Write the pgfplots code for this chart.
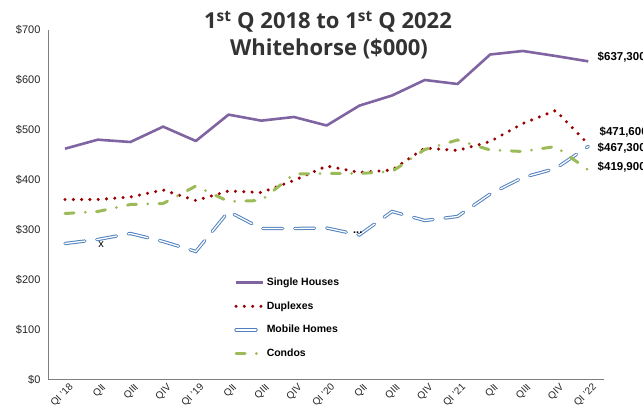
\documentclass[border=0pt]{standalone}
\usepackage{fontspec}
\setmainfont{Liberation Sans}
\newfontfamily\titlefont{Open Sans}
\usepackage{pgfplots}
\pgfplotsset{compat=1.18}
\definecolor{sh}{HTML}{8064A2}
\definecolor{dp}{HTML}{990000}
\definecolor{mh}{HTML}{4F81BD}
\definecolor{cd}{HTML}{9BBB59}
\definecolor{axgray}{HTML}{7F7F7F}
\definecolor{ttl}{HTML}{333333}
\begin{document}
\begin{tikzpicture}[x=1pt,y=1pt]
\begin{axis}[
  at={(49pt,34pt)}, anchor=south west,
  scale only axis, width=555pt, height=350pt,
  xmin=-0.49, xmax=16.48, ymin=0, ymax=700,
  axis x line=bottom, axis y line=left,
  axis line style={-, draw=axgray, line width=1pt},
  major tick length=0pt,
  clip=false,
  ytick={0,100,...,700},
  yticklabels={\$0,\$100,\$200,\$300,\$400,\$500,\$600,\$700},
  yticklabel style={font=\fontsize{11}{13}\selectfont, text=black!85, xshift=-5pt},
  xtick={0,...,16},
  xticklabels={{QI '18},QII,QIII,QIV,{QI '19},QII,QIII,QIV,{QI '20},QII,QIII,QIV,{QI '21},QII,QIII,QIV,{QI '22}},
  xticklabel style={font=\fontsize{10}{11}\selectfont, text=black!85, rotate=45, anchor=north east, inner sep=0.5pt, yshift=-4pt, xshift=1pt},
  legend style={at={(0.33,0.303)}, anchor=north west, draw=none, fill=none,
    font=\bfseries\fontsize{10.5}{12}\selectfont, row sep=10.5pt, inner sep=2pt},
  legend cell align=left,
  legend image code/.code={\draw[#1] (0pt,0pt) -- (27pt,0pt);},
]
\addplot[sh, line width=2.6pt, line join=round] coordinates {
(0,462.6) (1,480.6) (2,476) (3,506.7) (4,478) (5,530.7) (6,518.7) (7,526) (8,509)
(9,548.7) (10,569) (11,600) (12,592) (13,651) (14,658) (15,648) (16,637.3)};
\addlegendentry{Single Houses}
\addplot[dp, line width=3.4pt, line cap=round, dash pattern=on 0pt off 8.3pt] coordinates {
(0,361) (1,361) (2,366) (3,380) (4,359) (5,378) (6,375) (7,399) (8,428)
(9,415) (10,420) (11,464) (12,459) (13,477) (14,513) (15,539) (16,471.6)};
\addlegendentry{Duplexes}
\addplot[mh, line width=1pt, double=white, double distance=1.3pt, line cap=round, dash pattern=on 20pt off 12pt] coordinates {
(0,273) (1,281) (2,293) (3,277) (4,257) (5,337) (6,303) (7,303) (8,304)
(9,290) (10,337) (11,319) (12,327) (13,372) (14,405) (15,423) (16,467.3)};
\addlegendentry{Mobile Homes}
\addplot[cd, line width=3pt, line cap=round, dash pattern=on 9pt off 11.3pt on 0pt off 11.3pt] coordinates {
(0,333) (1,337) (2,351) (3,353) (4,388) (5,357) (6,359) (7,412) (8,413)
(9,413) (10,417) (11,461) (12,480) (13,460) (14,457) (15,467) (16,419.9)};
\addlegendentry{Condos}
\node[anchor=west, font=\bfseries\fontsize{11.5}{13}\selectfont] at (axis cs:16.18,646) {\$637,300};
\node[anchor=west, font=\bfseries\fontsize{11.5}{13}\selectfont] at (axis cs:16.24,496) {\$471,600};
\node[anchor=west, font=\bfseries\fontsize{11.5}{13}\selectfont] at (axis cs:16.18,463) {\$467,300};
\node[anchor=west, font=\bfseries\fontsize{11.5}{13}\selectfont] at (axis cs:16.18,426) {\$419,900};
\node[font=\fontsize{11}{13}\selectfont] at (axis cs:1.10,271) {x};
\node[font=\bfseries\fontsize{11}{13}\selectfont] at (axis cs:8.95,294) {...};
\end{axis}
\node[anchor=base, text=ttl, font=\titlefont\bfseries\fontsize{22}{26}\selectfont] at (328pt,385pt) {1\textsuperscript{st} Q 2018 to 1\textsuperscript{st} Q 2022};
\node[anchor=base, text=ttl, font=\titlefont\bfseries\fontsize{22}{26}\selectfont] at (329pt,358pt) {Whitehorse (\$000)};
\pgfresetboundingbox
\path (0pt,0pt) rectangle (643pt,414pt);
\end{tikzpicture}
\end{document}
